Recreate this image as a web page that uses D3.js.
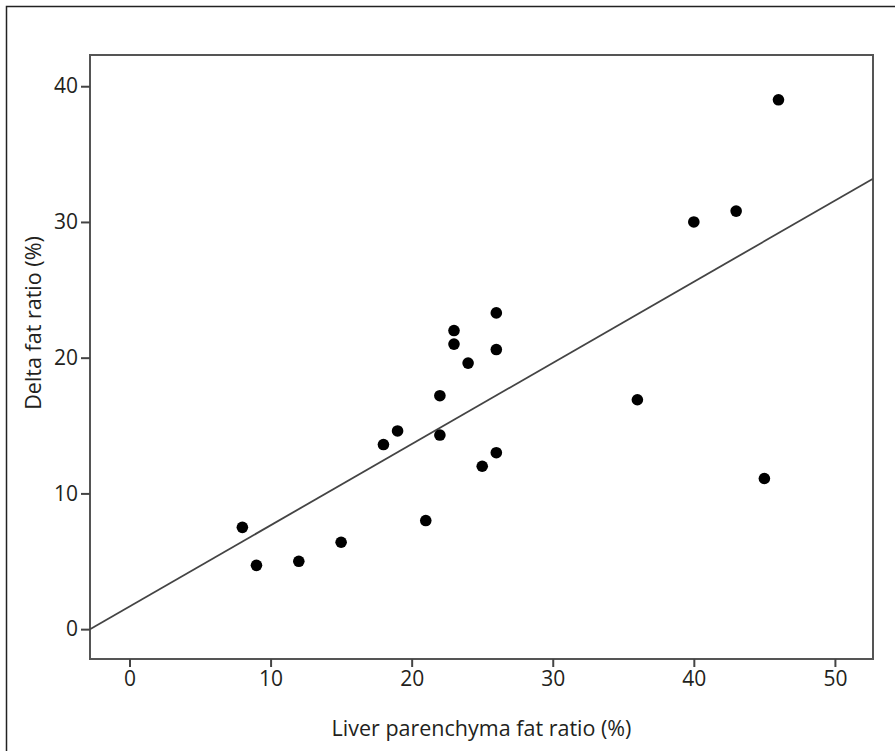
<!DOCTYPE html>
<html>
<head>
<meta charset="utf-8">
<script src="https://cdn.jsdelivr.net/npm/d3@7"></script>
<style>
  body { margin: 0; background: #fff; }
  text { font-family: "Open Sans", "Noto Sans", sans-serif; fill: #231f20; }
</style>
</head>
<body>
<div id="my_dataviz"></div>
<script>
// data
var liverFat = [8, 9, 12, 15, 18, 19, 21, 22, 22, 23, 23, 24, 25, 26, 26, 26, 36, 40, 43, 45, 46];
var deltaFat = [7.5, 4.7, 5.0, 6.4, 13.6, 14.6, 8.0, 14.3, 17.2, 21.0, 22.0, 19.6, 12.0, 13.0, 20.6, 23.3, 16.9, 30.0, 30.8, 11.1, 39.0];
var xTicks = [0, 10, 20, 30, 40, 50];
var yTicks = [0, 10, 20, 30, 40];
var fitIntercept = 1.67;
var fitSlope = 0.598;

var W = 895, H = 751;
var margin = {top: 55, right: 22, bottom: 92, left: 90},
    width = W - margin.left - margin.right,
    height = H - margin.top - margin.bottom;

var root = d3.select("#my_dataviz")
    .append("svg")
    .attr("width", W)
    .attr("height", H);

// outer frame of the figure
root.append("rect")
    .attr("x", 6.5).attr("y", 6.5)
    .attr("width", W + 20).attr("height", H + 20)
    .attr("fill", "none")
    .attr("stroke", "#222")
    .attr("stroke-width", 1.5);

var svg = root.append("g")
    .attr("transform", "translate(" + margin.left + "," + margin.top + ")");

var x = d3.scaleLinear().domain([-2.8, 52.7]).range([0, width]);
var y = d3.scaleLinear().domain([-2.2, 42.3]).range([height, 0]);

// plot box
svg.append("rect")
    .attr("width", width)
    .attr("height", height)
    .attr("fill", "none")
    .attr("stroke", "#555")
    .attr("stroke-width", 2);

// X axis
var xAxis = svg.append("g")
    .attr("transform", "translate(0," + height + ")")
    .call(d3.axisBottom(x).tickValues(xTicks).tickSize(8).tickPadding(4));
// Y axis
var yAxis = svg.append("g")
    .call(d3.axisLeft(y).tickValues(yTicks).tickSize(9).tickPadding(3));

[xAxis, yAxis].forEach(function(a) {
    a.select(".domain").remove();
    a.selectAll(".tick line").attr("stroke", "#444").attr("stroke-width", 2);
    a.selectAll(".tick text")
        .style("font-family", "'Open Sans', sans-serif")
        .style("font-size", "21px")
        .attr("fill", "#231f20");
});

// fit line, clipped to the box
svg.append("clipPath").attr("id", "clip")
    .append("rect").attr("width", width).attr("height", height);

var x0 = x.domain()[0], x1 = x.domain()[1];
svg.append("line")
    .attr("clip-path", "url(#clip)")
    .attr("x1", x(x0)).attr("y1", y(fitIntercept + fitSlope * x0))
    .attr("x2", x(x1)).attr("y2", y(fitIntercept + fitSlope * x1))
    .attr("stroke", "#444")
    .attr("stroke-width", 1.8);

// points
svg.selectAll("circle")
    .data(liverFat)
    .enter()
    .append("circle")
    .attr("cx", function(d) { return x(d); })
    .attr("cy", function(d, i) { return y(deltaFat[i]); })
    .attr("r", 5.8)
    .attr("fill", "#000");

// axis titles
svg.append("text")
    .attr("x", width / 2)
    .attr("y", height + 77)
    .attr("text-anchor", "middle")
    .style("font-size", "21.5px")
    .text("Liver parenchyma fat ratio (%)");

svg.append("text")
    .attr("transform", "translate(" + (33 - margin.left) + "," + (323 - margin.top) + ") rotate(-90)")
    .attr("text-anchor", "middle")
    .attr("dy", "0.35em")
    .style("font-size", "21.5px")
    .text("Delta fat ratio (%)");
</script>
</body>
</html>
